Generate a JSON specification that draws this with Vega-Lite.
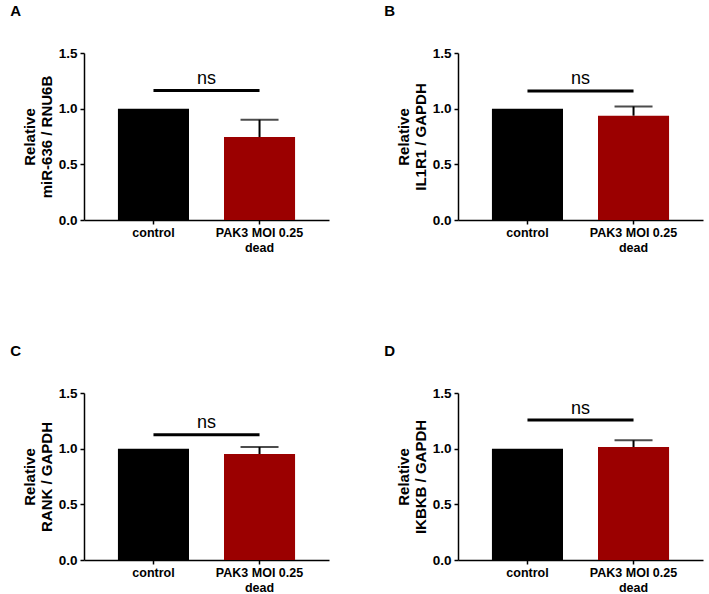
{
  "$schema": "https://vega.github.io/schema/vega-lite/v6.json",
  "padding": {"left": 10, "top": 4, "right": 5, "bottom": 0},
  "columns": 2,
  "spacing": {"row": 90, "column": 55},
  "config": {
    "font": "Liberation Sans",
    "view": {"stroke": null},
    "axis": {"grid": false, "domainColor": "black", "domainWidth": 1.5, "tickColor": "black", "tickWidth": 1.5, "tickSize": 4, "labelFont": "Liberation Sans", "labelFontWeight": "bold", "labelFontSize": 12, "labelColor": "black", "titleFont": "Liberation Sans", "titleFontSize": 15, "titleFontWeight": "bold", "titleColor": "black"},
    "axisX": {"labelAngle": 0, "labelPadding": 2, "labelLineHeight": 15, "title": null, "labelFontSize": 12.5},
    "axisY": {"titlePadding": 4, "titleLineHeight": 17, "labelPadding": 3, "labelFontSize": 13.5},
    "title": {"anchor": "start", "frame": "bounds", "fontSize": 15, "fontWeight": "bold", "font": "Liberation Sans", "color": "black", "dx": -12, "offset": 27},
    "text": {"font": "Liberation Sans"}
  },
  "datasets": {
    "A": [{"group": "control", "mean": 1.0, "upper": 1.0}, {"group": "PAK3 MOI 0.25 dead", "mean": 0.745, "upper": 0.9}],
    "B": [{"group": "control", "mean": 1.0, "upper": 1.0}, {"group": "PAK3 MOI 0.25 dead", "mean": 0.937, "upper": 1.02}],
    "C": [{"group": "control", "mean": 1.0, "upper": 1.0}, {"group": "PAK3 MOI 0.25 dead", "mean": 0.952, "upper": 1.015}],
    "D": [{"group": "control", "mean": 1.0, "upper": 1.0}, {"group": "PAK3 MOI 0.25 dead", "mean": 1.015, "upper": 1.075}],
    "nsA": [{"from": "control", "to": "PAK3 MOI 0.25 dead", "y": 1.163, "ty": 1.22, "label": "ns"}],
    "nsB": [{"from": "control", "to": "PAK3 MOI 0.25 dead", "y": 1.158, "ty": 1.22, "label": "ns"}],
    "nsC": [{"from": "control", "to": "PAK3 MOI 0.25 dead", "y": 1.126, "ty": 1.19, "label": "ns"}],
    "nsD": [{"from": "control", "to": "PAK3 MOI 0.25 dead", "y": 1.258, "ty": 1.31, "label": "ns"}]
  },
  "concat": [
    {
      "width": 245, "height": 167,
      "title": {"text": "A"},
      "layer": [
        {"data": {"name": "A"}, "layer": [
          {"mark": {"type": "bar"}, "encoding": {
            "x": {"field": "group", "type": "nominal", "sort": null, "scale": {"paddingInner": 0.33, "paddingOuter": 0.32}, "axis": {"labelExpr": "datum.value == 'PAK3 MOI 0.25 dead' ? ['PAK3 MOI 0.25', 'dead'] : datum.label"}},
            "y": {"field": "mean", "type": "quantitative", "scale": {"domain": [0, 1.5], "nice": false}, "axis": {"values": [0, 0.5, 1, 1.5], "format": ".1f", "title": ["Relative", "miR-636 / RNU6B"]}},
            "color": {"field": "group", "type": "nominal", "scale": {"domain": ["control", "PAK3 MOI 0.25 dead"], "range": ["#000000", "#9b0000"]}, "legend": null}}},
          {"transform": [{"filter": "datum.group != 'control'"}], "mark": {"type": "rule", "color": "black", "strokeWidth": 2}, "encoding": {"x": {"field": "group", "type": "nominal", "sort": null}, "y": {"field": "mean", "type": "quantitative"}, "y2": {"field": "upper"}}},
          {"transform": [{"filter": "datum.group != 'control'"}], "mark": {"type": "tick", "color": "black", "thickness": 2, "size": 38}, "encoding": {"x": {"field": "group", "type": "nominal", "sort": null}, "y": {"field": "upper", "type": "quantitative"}}}
        ]},
        {"data": {"name": "nsA"}, "layer": [
          {"mark": {"type": "rule", "color": "black", "strokeWidth": 3}, "encoding": {"x": {"field": "from", "type": "nominal", "sort": null}, "x2": {"field": "to"}, "y": {"field": "y", "type": "quantitative"}}},
          {"mark": {"type": "text", "fontSize": 18, "color": "black", "baseline": "alphabetic", "align": "center"}, "encoding": {"x": {"field": "from", "type": "nominal", "sort": null, "bandPosition": 1.246}, "y": {"field": "ty", "type": "quantitative"}, "text": {"field": "label"}}}
        ]}
      ]
    },
    {
      "width": 245, "height": 167,
      "title": {"text": "B"},
      "layer": [
        {"data": {"name": "B"}, "layer": [
          {"mark": {"type": "bar"}, "encoding": {
            "x": {"field": "group", "type": "nominal", "sort": null, "scale": {"paddingInner": 0.33, "paddingOuter": 0.32}, "axis": {"labelExpr": "datum.value == 'PAK3 MOI 0.25 dead' ? ['PAK3 MOI 0.25', 'dead'] : datum.label"}},
            "y": {"field": "mean", "type": "quantitative", "scale": {"domain": [0, 1.5], "nice": false}, "axis": {"values": [0, 0.5, 1, 1.5], "format": ".1f", "title": ["Relative", "IL1R1 / GAPDH"]}},
            "color": {"field": "group", "type": "nominal", "scale": {"domain": ["control", "PAK3 MOI 0.25 dead"], "range": ["#000000", "#9b0000"]}, "legend": null}}},
          {"transform": [{"filter": "datum.group != 'control'"}], "mark": {"type": "rule", "color": "black", "strokeWidth": 2}, "encoding": {"x": {"field": "group", "type": "nominal", "sort": null}, "y": {"field": "mean", "type": "quantitative"}, "y2": {"field": "upper"}}},
          {"transform": [{"filter": "datum.group != 'control'"}], "mark": {"type": "tick", "color": "black", "thickness": 2, "size": 38}, "encoding": {"x": {"field": "group", "type": "nominal", "sort": null}, "y": {"field": "upper", "type": "quantitative"}}}
        ]},
        {"data": {"name": "nsB"}, "layer": [
          {"mark": {"type": "rule", "color": "black", "strokeWidth": 3}, "encoding": {"x": {"field": "from", "type": "nominal", "sort": null}, "x2": {"field": "to"}, "y": {"field": "y", "type": "quantitative"}}},
          {"mark": {"type": "text", "fontSize": 18, "color": "black", "baseline": "alphabetic", "align": "center"}, "encoding": {"x": {"field": "from", "type": "nominal", "sort": null, "bandPosition": 1.246}, "y": {"field": "ty", "type": "quantitative"}, "text": {"field": "label"}}}
        ]}
      ]
    },
    {
      "width": 245, "height": 167,
      "title": {"text": "C"},
      "layer": [
        {"data": {"name": "C"}, "layer": [
          {"mark": {"type": "bar"}, "encoding": {
            "x": {"field": "group", "type": "nominal", "sort": null, "scale": {"paddingInner": 0.33, "paddingOuter": 0.32}, "axis": {"labelExpr": "datum.value == 'PAK3 MOI 0.25 dead' ? ['PAK3 MOI 0.25', 'dead'] : datum.label"}},
            "y": {"field": "mean", "type": "quantitative", "scale": {"domain": [0, 1.5], "nice": false}, "axis": {"values": [0, 0.5, 1, 1.5], "format": ".1f", "title": ["Relative", "RANK / GAPDH"]}},
            "color": {"field": "group", "type": "nominal", "scale": {"domain": ["control", "PAK3 MOI 0.25 dead"], "range": ["#000000", "#9b0000"]}, "legend": null}}},
          {"transform": [{"filter": "datum.group != 'control'"}], "mark": {"type": "rule", "color": "black", "strokeWidth": 2}, "encoding": {"x": {"field": "group", "type": "nominal", "sort": null}, "y": {"field": "mean", "type": "quantitative"}, "y2": {"field": "upper"}}},
          {"transform": [{"filter": "datum.group != 'control'"}], "mark": {"type": "tick", "color": "black", "thickness": 2, "size": 38}, "encoding": {"x": {"field": "group", "type": "nominal", "sort": null}, "y": {"field": "upper", "type": "quantitative"}}}
        ]},
        {"data": {"name": "nsC"}, "layer": [
          {"mark": {"type": "rule", "color": "black", "strokeWidth": 3}, "encoding": {"x": {"field": "from", "type": "nominal", "sort": null}, "x2": {"field": "to"}, "y": {"field": "y", "type": "quantitative"}}},
          {"mark": {"type": "text", "fontSize": 18, "color": "black", "baseline": "alphabetic", "align": "center"}, "encoding": {"x": {"field": "from", "type": "nominal", "sort": null, "bandPosition": 1.246}, "y": {"field": "ty", "type": "quantitative"}, "text": {"field": "label"}}}
        ]}
      ]
    },
    {
      "width": 245, "height": 167,
      "title": {"text": "D"},
      "layer": [
        {"data": {"name": "D"}, "layer": [
          {"mark": {"type": "bar"}, "encoding": {
            "x": {"field": "group", "type": "nominal", "sort": null, "scale": {"paddingInner": 0.33, "paddingOuter": 0.32}, "axis": {"labelExpr": "datum.value == 'PAK3 MOI 0.25 dead' ? ['PAK3 MOI 0.25', 'dead'] : datum.label"}},
            "y": {"field": "mean", "type": "quantitative", "scale": {"domain": [0, 1.5], "nice": false}, "axis": {"values": [0, 0.5, 1, 1.5], "format": ".1f", "title": ["Relative", "IKBKB / GAPDH"]}},
            "color": {"field": "group", "type": "nominal", "scale": {"domain": ["control", "PAK3 MOI 0.25 dead"], "range": ["#000000", "#9b0000"]}, "legend": null}}},
          {"transform": [{"filter": "datum.group != 'control'"}], "mark": {"type": "rule", "color": "black", "strokeWidth": 2}, "encoding": {"x": {"field": "group", "type": "nominal", "sort": null}, "y": {"field": "mean", "type": "quantitative"}, "y2": {"field": "upper"}}},
          {"transform": [{"filter": "datum.group != 'control'"}], "mark": {"type": "tick", "color": "black", "thickness": 2, "size": 38}, "encoding": {"x": {"field": "group", "type": "nominal", "sort": null}, "y": {"field": "upper", "type": "quantitative"}}}
        ]},
        {"data": {"name": "nsD"}, "layer": [
          {"mark": {"type": "rule", "color": "black", "strokeWidth": 3}, "encoding": {"x": {"field": "from", "type": "nominal", "sort": null}, "x2": {"field": "to"}, "y": {"field": "y", "type": "quantitative"}}},
          {"mark": {"type": "text", "fontSize": 18, "color": "black", "baseline": "alphabetic", "align": "center"}, "encoding": {"x": {"field": "from", "type": "nominal", "sort": null, "bandPosition": 1.246}, "y": {"field": "ty", "type": "quantitative"}, "text": {"field": "label"}}}
        ]}
      ]
    }
  ]
}
